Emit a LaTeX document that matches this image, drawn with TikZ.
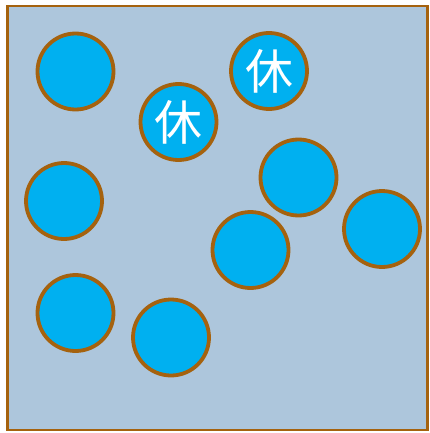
\documentclass[tikz,border=0pt]{standalone}
\usepackage{fontspec}
\newfontfamily\cjk{Noto Sans CJK SC}
\definecolor{bgc}{HTML}{ADC6DC}
\definecolor{brd}{HTML}{A5620E}
\definecolor{ball}{HTML}{00B0F0}
\begin{document}
\begin{tikzpicture}[x=1pt,y=-1pt,
  ballnode/.style={circle,draw=brd,fill=ball,line width=3.8pt,minimum size=76pt,inner sep=0pt,text=white,font=\cjk\fontsize{48}{48}\selectfont}]
\useasboundingbox (0,0) rectangle (429,433);
\node[draw=brd,fill=bgc,line width=2.8pt,minimum width=420pt,minimum height=424pt,inner sep=0pt] (box) at (217.5,218) {};
\node[ballnode] (c1) at (75.5,71.5) {};
\node[ballnode] (c2) at (178.5,122) {休};
\node[ballnode] (c3) at (269,71) {休};
\node[ballnode] (c4) at (64,201) {};
\node[ballnode] (c5) at (298.5,177.5) {};
\node[ballnode] (c6) at (382,229) {};
\node[ballnode] (c7) at (250.5,250) {};
\node[ballnode] (c8) at (75.5,313) {};
\node[ballnode] (c9) at (171,337.5) {};
\end{tikzpicture}
\end{document}
